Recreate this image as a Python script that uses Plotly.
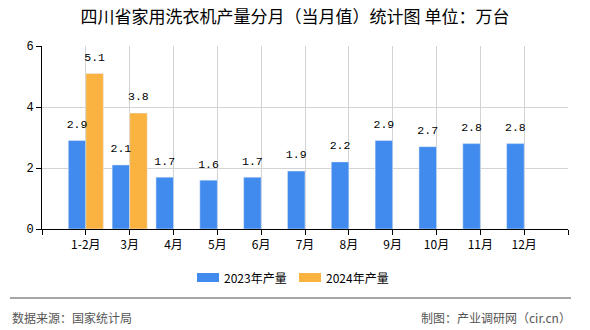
import plotly.graph_objects as go

categories = ["1-2月", "3月", "4月", "5月", "6月", "7月", "8月", "9月", "10月", "11月", "12月"]
values_2023 = [2.9, 2.1, 1.7, 1.6, 1.7, 1.9, 2.2, 2.9, 2.7, 2.8, 2.8]
values_2024 = [5.1, 3.8]
series_names = ["2023年产量", "2024年产量"]
y_ticks = [0, 2, 4, 6]

BLUE = "#428BEE"
ORANGE = "#FAB341"
MONO = "Liberation Mono, Noto Sans CJK SC, monospace"
CJK = "Noto Sans CJK SC, sans-serif"

BARGAP = 0.2
N_SERIES = 2
BAR_W = (1 - BARGAP) / N_SERIES

# plot-area geometry in pixels (for converting layout-only decorations)
L, R, T, B = 42, 568, 46, 229
W, H = R - L, B - T


def px_x(px):
    return (px - L) / W


def px_y(py):
    return (B - py) / H


pos = list(range(len(categories)))

fig = go.Figure()
series = [(values_2023, BLUE), (values_2024, ORANGE)]
for i, (vals, color) in enumerate(series):
    fig.add_trace(go.Bar(
        x=pos[:len(vals)], y=vals, name=series_names[i], marker_color=color,
    ))
# value labels drawn on top of all bars, centred over each bar
for i, (vals, color) in enumerate(series):
    off = -(1 - BARGAP) / 2 + BAR_W * (i + 0.5)
    fig.add_trace(go.Scatter(
        x=[p + off for p in pos[:len(vals)]], y=vals, mode="markers+text",
        marker=dict(size=14, color="rgba(0,0,0,0)"),
        text=[f"{v:.1f}" for v in vals], textposition="top center",
        textfont=dict(family=MONO, size=11.5, color="#000"),
        cliponaxis=False, hoverinfo="skip", showlegend=False,
    ))

fig.update_layout(
    width=590, height=330,
    margin=dict(l=L, r=590 - R, t=T, b=330 - B),
    paper_bgcolor="white", plot_bgcolor="white",
    barmode="group", bargap=BARGAP, bargroupgap=0,
    title=dict(text="四川省家用洗衣机产量分月（当月值）统计图 单位：万台",
               x=0.5, xanchor="center", y=1 - 17 / 330, yanchor="middle",
               font=dict(family=CJK, size=17, color="#000")),
    showlegend=False,
    font=dict(family=CJK, size=12, color="#000"),
)

fig.update_xaxes(
    range=[-1, len(categories)],
    tickmode="array",
    tickvals=list(range(-1, len(categories) + 1)),
    ticktext=[""] + categories + [""],
    showgrid=True, gridcolor="#D3D3D3", gridwidth=1,
    showline=True, linecolor="#000", linewidth=1,
    ticks="outside", ticklen=5, tickcolor="#000",
    tickfont=dict(family=CJK, size=12, color="#000"),
    zeroline=False,
)
fig.update_yaxes(
    range=[0, 6],
    tickvals=y_ticks,
    showgrid=True, gridcolor="#D3D3D3", gridwidth=1,
    showline=True, linecolor="#000", linewidth=1,
    ticks="outside", ticklen=5, tickcolor="#000",
    tickfont=dict(family=MONO, size=12, color="#000"),
    zeroline=False,
)

# custom legend (rectangular swatches)
legend_items = [(series_names[0], BLUE, 197), (series_names[1], ORANGE, 299)]
for name, color, x0 in legend_items:
    fig.add_shape(type="rect", xref="paper", yref="paper",
                  x0=px_x(x0), x1=px_x(x0 + 22), y0=px_y(273), y1=px_y(282),
                  fillcolor=color, line=dict(width=0))
    fig.add_annotation(text=name, xref="paper", yref="paper",
                       x=px_x(x0 + 26), y=px_y(277.5), xanchor="left", yanchor="middle",
                       showarrow=False, borderpad=0,
                       font=dict(family=CJK, size=12, color="#000"))

# footer separator line and source texts
fig.add_shape(type="line", xref="paper", yref="paper",
              x0=px_x(10), x1=px_x(571), y0=px_y(298), y1=px_y(298),
              line=dict(color="#888", width=1.5))
fig.add_annotation(text="数据来源：国家统计局", xref="paper", yref="paper",
                   x=px_x(11), y=px_y(317), xanchor="left", yanchor="middle",
                   showarrow=False, borderpad=0, font=dict(family=CJK, size=12, color="#555"))
fig.add_annotation(text="制图：产业调研网（cir.cn）", xref="paper", yref="paper",
                   x=px_x(572), y=px_y(317), xanchor="right", yanchor="middle",
                   showarrow=False, borderpad=0, font=dict(family=CJK, size=12, color="#555"))

fig.write_html("out.html")
